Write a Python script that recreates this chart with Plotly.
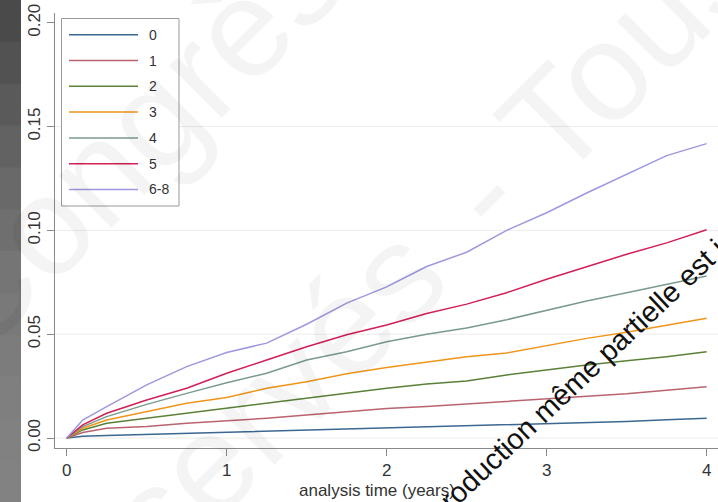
import plotly.graph_objects as go

# ---------------- data ----------------
time_years = [0, 0.1, 0.25, 0.5, 0.75, 1, 1.25, 1.5, 1.75, 2, 2.25, 2.5, 2.75, 3, 3.25, 3.5, 3.75, 4]

group_labels = ["0", "1", "2", "3", "4", "5", "6-8"]

cif_0 = [0, 0.0008, 0.0012, 0.0017, 0.0022, 0.0027, 0.0033, 0.0039, 0.0043, 0.0047, 0.0052, 0.0058, 0.0062, 0.0068, 0.0074, 0.0080, 0.0088, 0.0095]
cif_1 = [0, 0.0027, 0.0047, 0.0056, 0.0071, 0.0083, 0.0095, 0.0111, 0.0127, 0.0142, 0.0152, 0.0164, 0.0175, 0.0187, 0.0199, 0.0213, 0.0230, 0.0247]
cif_2 = [0, 0.0039, 0.0071, 0.0095, 0.0119, 0.0143, 0.0167, 0.0191, 0.0215, 0.0240, 0.0260, 0.0275, 0.0304, 0.0328, 0.0352, 0.0372, 0.0392, 0.0416]
cif_3 = [0, 0.0047, 0.0087, 0.0127, 0.0167, 0.0195, 0.0240, 0.0271, 0.0310, 0.0340, 0.0365, 0.0392, 0.0410, 0.0445, 0.0480, 0.0510, 0.0545, 0.0577]
cif_4 = [0, 0.0055, 0.0103, 0.0162, 0.0215, 0.0266, 0.0312, 0.0376, 0.0416, 0.0464, 0.0500, 0.0530, 0.0570, 0.0615, 0.0660, 0.0700, 0.0740, 0.0780]
cif_5 = [0, 0.0063, 0.0119, 0.0183, 0.0240, 0.0312, 0.0376, 0.0440, 0.0497, 0.0544, 0.0600, 0.0645, 0.0700, 0.0765, 0.0825, 0.0885, 0.0940, 0.1003]
cif_6_8 = [0, 0.0087, 0.0151, 0.0256, 0.0344, 0.0412, 0.0457, 0.0548, 0.0650, 0.0728, 0.0826, 0.0895, 0.1000, 0.1085, 0.1180, 0.1270, 0.1360, 0.1418]

series = [cif_0, cif_1, cif_2, cif_3, cif_4, cif_5, cif_6_8]

x_ticks = [0, 1, 2, 3, 4]
y_ticks = [0, 0.05, 0.10, 0.15, 0.20]
y_ticktext = ["0.00", "0.05", "0.10", "0.15", "0.20"]
grid_values = [0, 0.05, 0.10, 0.15]

x_title = "analysis time (years)"

# ---------------- style ----------------
colors = ["#3b6791", "#b9636f", "#5b8038", "#f0951a", "#7a9a90", "#d21f55", "#9d98e0"]
FONT = "Liberation Sans, Arial, Helvetica, sans-serif"
AXIS_COL = "#8a8a8a"

W, H = 718, 502
ML, MR, MT, MB = 55, 0, 13, 54
PW, PH = W - ML - MR, H - MT - MB


def pxx(x):
    return (x - ML) / PW


def pxy(y):
    return (H - MB - y) / PH


fig = go.Figure()
for lab, vals, col in zip(group_labels, series, colors):
    fig.add_trace(go.Scatter(x=time_years, y=vals, mode="lines", name=lab,
                             line=dict(color=col, width=1.5), showlegend=False))

shapes = []
# left dark strip (screenshot edge)
strip_cols = ["#4a4a4a", "#525252", "#5a5a5a", "#626262", "#696969", "#6f6f6f",
              "#757575", "#797979", "#7c7c7c", "#7f7f7f", "#818181", "#828282"]
n = len(strip_cols)
for i, c in enumerate(strip_cols):
    y0 = i * H / n
    y1 = (i + 1) * H / n + 1
    shapes.append(dict(type="rect", xref="paper", yref="paper", x0=pxx(0), x1=pxx(21),
                       y0=pxy(y1), y1=pxy(y0), fillcolor=c, line=dict(width=0), layer="above"))

# gridlines
for g in grid_values:
    shapes.append(dict(type="line", xref="paper", yref="y", x0=0, x1=1, y0=g, y1=g,
                       line=dict(color="#ececec", width=1), layer="below"))

# manual legend
shapes.append(dict(type="rect", xref="paper", yref="paper", x0=pxx(61.5), x1=pxx(179),
                   y0=pxy(206), y1=pxy(18.5), fillcolor="white",
                   line=dict(color="#9a9a9a", width=1), layer="above"))
annotations = []
for i, (lab, col) in enumerate(zip(group_labels, colors)):
    yy = 34.7 + i * 25.8
    shapes.append(dict(type="line", xref="paper", yref="paper", x0=pxx(69), x1=pxx(138),
                       y0=pxy(yy), y1=pxy(yy), line=dict(color=col, width=1.5), layer="above"))
    annotations.append(dict(xref="paper", yref="paper", x=pxx(147), y=pxy(yy), text=lab,
                            showarrow=False, xanchor="left", yanchor="middle",
                            font=dict(family=FONT, size=14, color="#333333")))

# x-axis title
annotations.append(dict(xref="paper", yref="paper", x=pxx(377), y=pxy(491), text=x_title,
                        showarrow=False, xanchor="center", yanchor="middle",
                        font=dict(family=FONT, size=17, color="#333333")))

# faint watermark fragments
wm = "rgba(0,0,0,0.045)"
for txt, cx, cy in [("Congrès", 130, 140), ("réservés", 230, 440), ("- Tous", 599, 76)]:
    annotations.append(dict(xref="paper", yref="paper", x=pxx(cx), y=pxy(cy), text=txt,
                            showarrow=False, xanchor="center", yanchor="middle", textangle=-45,
                            font=dict(family=FONT, size=140, color=wm)))

# black watermark line
annotations.append(dict(xref="paper", yref="paper", x=pxx(598), y=pxy(360),
                        text="Reproduction même partielle est interdite",
                        showarrow=False, xanchor="center", yanchor="middle", textangle=-43.3,
                        font=dict(family=FONT, size=29, color="#111111")))

fig.update_layout(
    width=W, height=H, autosize=False,
    margin=dict(l=ML, r=MR, t=MT, b=MB, pad=0),
    paper_bgcolor="white", plot_bgcolor="white",
    shapes=shapes, annotations=annotations,
    font=dict(family=FONT, size=17, color="#333333"),
)
fig.update_xaxes(range=[-0.073, 4.071], tickvals=x_ticks, ticks="outside", ticklen=7,
                 tickcolor=AXIS_COL, showline=True, linecolor=AXIS_COL, linewidth=1,
                 showgrid=False, zeroline=False, tickfont=dict(size=17, color="#333333"))
fig.update_yaxes(range=[-0.0048, 0.2047], tickvals=y_ticks, ticktext=y_ticktext, tickangle=-90,
                 ticks="outside", ticklen=7, tickcolor=AXIS_COL, showline=True,
                 linecolor=AXIS_COL, linewidth=1, showgrid=False, zeroline=False,
                 tickfont=dict(size=17, color="#333333"))

fig.write_html("out.html", config={"displayModeBar": False},
               post_script="document.body.style.margin='0px';document.body.style.overflow='hidden';")
